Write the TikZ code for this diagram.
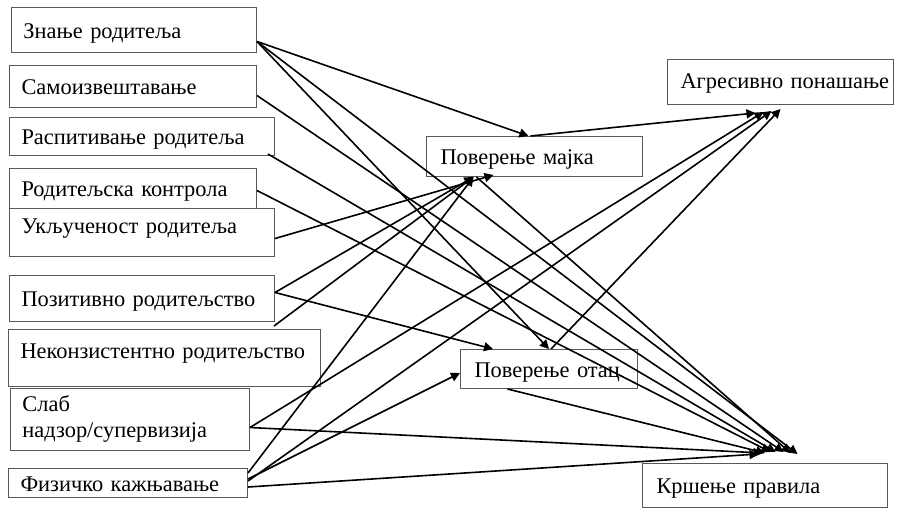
\documentclass[tikz,border=0pt]{standalone}
\usepackage{fontspec}
\setmainfont{Liberation Serif}
\usepackage{tikz}
\usetikzlibrary{arrows.meta}
\usepackage{xcolor}
\definecolor{boxgray}{gray}{0.35}

\tikzset{
  varbox/.style 2 args={draw=boxgray, line width=0.5pt, anchor=north west,
    align=left, inner xsep=6pt, inner ysep=0pt, text width=#1, minimum height=#2,
    text height=9pt, text depth=1pt, font=\fontsize{11.2}{13}\selectfont},
  arr/.style={line width=0.8pt, -{Triangle[length=4.5pt,width=4.5pt]}}
}

\begin{document}
\begin{tikzpicture}[x=0.5pt, y=-0.5pt]
    \useasboundingbox (0,0) rectangle (901,510);

    \node[varbox={110.5pt}{22.5pt}] (znanje) at (11,7) {Знање~родитеља};
    \node[varbox={111.5pt}{21pt}] (samo) at (9,65) {Самоизвештавање};
    \node[varbox={120.5pt}{19pt}] (raspit) at (9,117) {Распитивање~родитеља};
    \node[varbox={111.5pt}{20pt}] (kontrola) at (9,168) {Родитељска~контрола};
    \node[varbox={120.5pt}{24pt}, text height=8pt, text depth=7pt] (ukljuc) at (9,208) {Укљученост~родитеља};
    \node[varbox={120.5pt}{23pt}] (pozit) at (9,275) {Позитивно~родитељство};
    \node[varbox={144pt}{28.5pt}, text height=7.5pt, text depth=7pt] (nekonz) at (8,329) {Неконзистентно~родитељство};
    \node[varbox={107.5pt}{31pt}, text depth=17pt] (slab) at (10,388) {Слаб\\надзор/супервизија};
    \node[varbox={107.5pt}{14.5pt}] (fizicko) at (8,468) {Физичко~кажњавање};

    \node[varbox={94pt}{20pt}, inner xsep=7pt] (majka) at (426,136) {Поверење~мајка};
    \node[varbox={74.5pt}{19.5pt}, inner xsep=7pt] (otac) at (460,349) {Поверење~отац};

    \node[varbox={100pt}{22.5pt}, inner xsep=6.5pt, text height=8pt, text depth=2pt] (agres) at (667,59) {Агресивно~понашање};
    \node[varbox={108.5pt}{22pt}, inner xsep=7pt] (krsenje) at (642,463) {Кршење~правила};

  \draw[arr] ([yshift=-5.75pt]znanje.east) -- ([xshift=-3pt]majka.north);
  \draw[arr] ([yshift=-5.75pt]znanje.east) -- (otac.north);
  \draw[arr] ([yshift=-5.75pt]znanje.east) -- ([xshift=16.25pt,yshift=4.5pt]krsenje.north);

  \draw[arr] ([yshift=-4.5pt]samo.east) -- ([xshift=9.25pt,yshift=5.5pt]krsenje.north);
  \draw[arr] ([xshift=-3.5pt,yshift=1pt]raspit.south east) -- ([xshift=5.25pt,yshift=5.5pt]krsenje.north);
  \draw[arr] ([yshift=-1pt]kontrola.east) -- ([xshift=2.75pt,yshift=5.5pt]krsenje.north);
  \draw[arr] ([yshift=-3pt]ukljuc.east) -- ([xshift=-20.5pt,yshift=1pt]majka.south);

  \draw[arr] ([yshift=3pt]pozit.east) -- ([xshift=-30.5pt]majka.south);
  \draw[arr] ([yshift=3pt]pozit.east) -- ([xshift=-28pt]otac.north);
  \draw[arr] ([xshift=-23.5pt,yshift=1.5pt]nekonz.north east) -- ([xshift=-30.5pt]majka.south);

  \draw[arr] ([yshift=-4pt]slab.east) -- ([xshift=-8.5pt,yshift=-3.5pt]agres.south);
  \draw[arr] ([yshift=-4pt]slab.east) -- ([xshift=-1.25pt,yshift=5pt]krsenje.north);

  \draw[arr] ([yshift=5pt]fizicko.east) -- ([xshift=-30.5pt]majka.south);
  \draw[arr] ([yshift=2pt]fizicko.east) -- ([yshift=-2pt]otac.west);
  \draw[arr] ([yshift=1pt]fizicko.east) -- ([xshift=-4.5pt,yshift=-3pt]agres.south);
  \draw[arr] ([yshift=-2pt]fizicko.east) -- ([xshift=-3.25pt,yshift=4.5pt]krsenje.north);

  \draw[arr] ([xshift=-2pt]majka.north) -- ([xshift=-12.5pt,yshift=-4pt]agres.south);
  \draw[arr] ([xshift=-29pt]majka.south) -- ([xshift=12.75pt,yshift=5pt]krsenje.north);

  \draw[arr] ([xshift=1pt]otac.north) -- ([yshift=-2pt]agres.south);
  \draw[arr] ([xshift=-20.75pt]otac.south) -- ([yshift=5pt]krsenje.north);
\end{tikzpicture}
\end{document}
